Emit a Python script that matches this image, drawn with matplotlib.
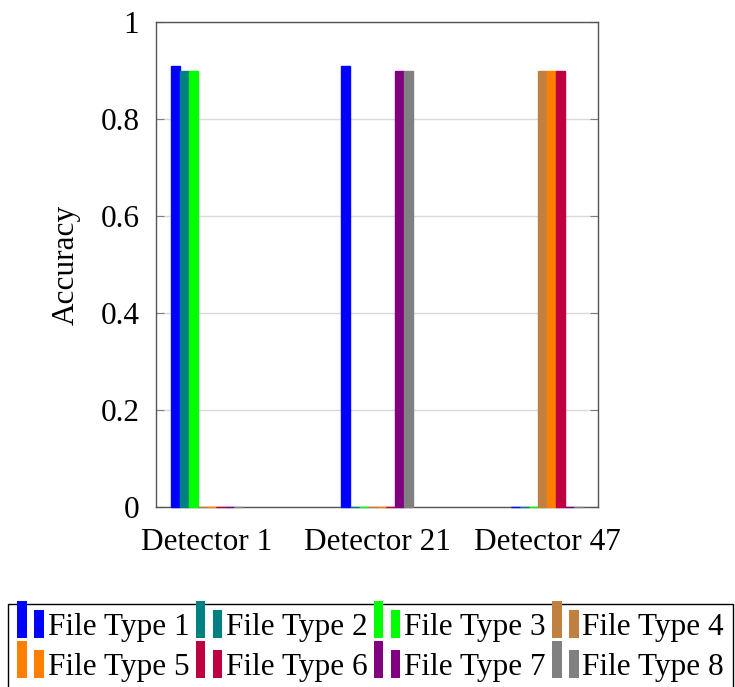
import matplotlib
matplotlib.use("Agg")
import matplotlib.pyplot as plt
from matplotlib.patches import Rectangle
from matplotlib.legend_handler import HandlerBase
import numpy as np

plt.rcParams['font.family'] = ['Liberation Serif', 'DejaVu Serif']
plt.rcParams['font.size'] = 22.5

detectors = ['Detector 1', 'Detector 21', 'Detector 47']
file_types = ['File Type 1', 'File Type 2', 'File Type 3', 'File Type 4',
              'File Type 5', 'File Type 6', 'File Type 7', 'File Type 8']
colors = ['#0000ff', '#008080', '#00ff00', '#bf8040',
          '#ff8000', '#bf0040', '#800080', '#808080']

# accuracy per file type, one list per detector
acc_det1 = [0.91, 0.90, 0.90, 0, 0, 0, 0, 0]
acc_det21 = [0.91, 0, 0, 0, 0, 0, 0.90, 0.90]
acc_det47 = [0, 0, 0, 0.90, 0.90, 0.90, 0, 0]
values = np.array([acc_det1, acc_det21, acc_det47])


class BarPairHandler(HandlerBase):
    # two small bars side by side, like the pgfplots ybar legend
    def create_artists(self, legend, orig_handle, xdescent, ydescent,
                       width, height, fontsize, trans):
        c = orig_handle.get_facecolor()
        bw = width * 0.36
        h = fontsize * 1.2
        y0 = -ydescent - 2
        r1 = Rectangle((-xdescent, y0), bw, h, facecolor=c, edgecolor='none',
                       transform=trans)
        r2 = Rectangle((-xdescent + width - bw, y0), bw, h * 0.74,
                       facecolor=c, edgecolor='none', transform=trans)
        return [r1, r2]


fig = plt.figure(figsize=(7.35, 6.87), dpi=100)
ax = fig.add_axes([156 / 735, 180 / 687, 442 / 735, 485 / 687])

x = np.arange(len(detectors))
width = 0.053
n = len(file_types)
handles = []
for i, (name, col) in enumerate(zip(file_types, colors)):
    offs = (i - (n - 1) / 2) * width
    bars = ax.bar(x + offs, values[:, i], width, color=col, edgecolor=col,
                  linewidth=1, label=name, zorder=3, clip_on=False)
    handles.append(bars.patches[0])

ax.set_xlim(-0.3, 2.3)
ax.set_ylim(0, 1)
ax.set_xticks(x)
ax.set_xticklabels(detectors)
ax.set_yticks([0, 0.2, 0.4, 0.6, 0.8, 1])
ax.set_yticklabels(['0', '0.2', '0.4', '0.6', '0.8', '1'])
ax.tick_params(axis='x', length=0, pad=15)
ax.tick_params(axis='y', direction='in', length=6, color='#808080',
               left=True, right=True, pad=12)
ax.set_ylabel('Accuracy', labelpad=14)
ax.yaxis.grid(True, color='#d9d9d9', linewidth=1)
ax.set_axisbelow(True)
for s in ax.spines.values():
    s.set_color('#555555')
    s.set_linewidth(1)

# legend is filled column by column, so reorder to read row by row
ncol = 4
order = [r * ncol + c for c in range(ncol) for r in range(2)]
leg = fig.legend([handles[k] for k in order], [file_types[k] for k in order],
                 ncol=ncol, loc='upper left',
                 bbox_to_anchor=(8 / 735, 1 - 604 / 687),
                 handler_map={Rectangle: BarPairHandler()},
                 frameon=True, fancybox=False, framealpha=1,
                 edgecolor='black', handlelength=0.85, handletextpad=0.12,
                 columnspacing=0.2, labelspacing=0.35, borderpad=0.3,
                 borderaxespad=0)
leg.get_frame().set_linewidth(1)

fig.savefig('out.png', dpi=100)
